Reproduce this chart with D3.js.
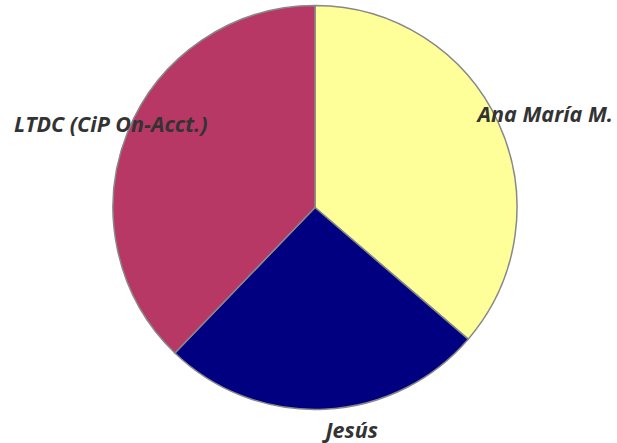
<!DOCTYPE html>
<html><head><meta charset="utf-8">
<script src="https://cdn.jsdelivr.net/npm/d3@7"></script>
<style>body{margin:0;background:#fff}svg{display:block}</style>
</head><body>
<svg id="c" width="617" height="443"></svg>
<script>
const categories = ["Ana María M.", "Jesús", "LTDC (CiP On-Acct.)"];
const values = [36.3, 25.9, 37.8];
const colors = ["#ffff99", "#000080", "#b83865"];

const W = 617, H = 443, cx = 315, cy = 207.5, R = 202, RL = 223;
const svg = d3.select("#c");
const pie = d3.pie().sort(null).value(d => d.v);
const data = pie(categories.map((c, i) => ({c, v: values[i], col: colors[i]})));
const arc = d3.arc().innerRadius(0).outerRadius(R);
const g = svg.append("g").attr("transform", `translate(${cx},${cy})`);
g.selectAll("path").data(data).join("path")
  .attr("d", arc).attr("fill", d => d.data.col)
  .attr("stroke", "#888").attr("stroke-width", 1.5).attr("stroke-linejoin", "round");

data.forEach(d => {
  const a = (d.startAngle + d.endAngle) / 2;
  const x = cx + RL * Math.sin(a), y = cy - RL * Math.cos(a);
  const t = svg.append("text").attr("y", y).attr("dy", "0.35em")
    .attr("font-family", "'Open Sans', sans-serif").attr("font-weight", "bold")
    .attr("font-style", "italic").attr("font-size", 21.5).attr("fill", "#333")
    .text(d.data.c);
  const w = t.node().getComputedTextLength();
  let x0 = Math.sin(a) >= 0 ? x : x - w;
  x0 = Math.max(14, Math.min(613 - w, x0));
  t.attr("x", x0);
});
</script>
</body></html>
